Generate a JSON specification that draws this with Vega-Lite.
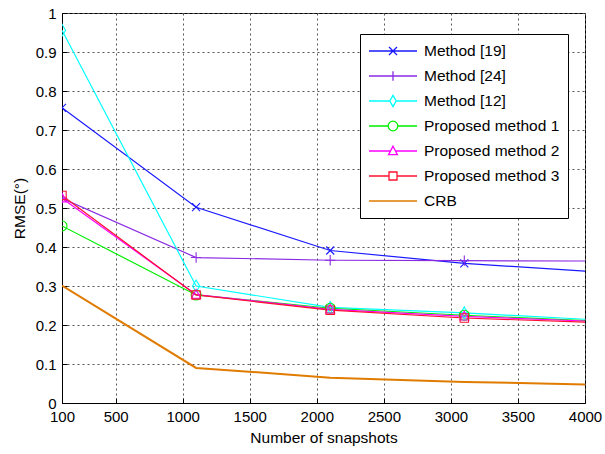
{
  "$schema": "https://vega.github.io/schema/vega-lite/v6.json",
  "width": 523,
  "height": 390,
  "autosize": {"type": "none"},
  "padding": {"left": 62, "top": 13, "right": 20, "bottom": 51},
  "background": "white",
  "config": {
    "view": {"stroke": "black", "strokeWidth": 1},
    "font": "Liberation Sans",
    "point": {"opacity": 1},
    "axis": {
      "grid": true,
      "labelFont": "Liberation Sans",
      "titleFont": "Liberation Sans",
      "labelFontSize": 15,
      "titleFontSize": 15.5,
      "titleFontWeight": "normal",
      "labelColor": "black",
      "titleColor": "black",
      "domainColor": "black",
      "tickColor": "black",
      "gridColor": "#555555",
      "gridDash": [2, 3],
      "gridOpacity": 1,
      "gridWidth": 1,
      "tickSize": -5,
      "labelPadding": 11
    }
  },
  "data": {
    "values": [
      {"x": 100, "y": 0.757, "s": "Method [19]"},
      {"x": 1100, "y": 0.502, "s": "Method [19]"},
      {"x": 2100, "y": 0.391, "s": "Method [19]"},
      {"x": 3100, "y": 0.358, "s": "Method [19]"},
      {"x": 4100, "y": 0.336, "s": "Method [19]"},
      {"x": 100, "y": 0.525, "s": "Method [24]"},
      {"x": 1100, "y": 0.373, "s": "Method [24]"},
      {"x": 2100, "y": 0.366, "s": "Method [24]"},
      {"x": 3100, "y": 0.365, "s": "Method [24]"},
      {"x": 4100, "y": 0.364, "s": "Method [24]"},
      {"x": 100, "y": 0.956, "s": "Method [12]"},
      {"x": 1100, "y": 0.300, "s": "Method [12]"},
      {"x": 2100, "y": 0.245, "s": "Method [12]"},
      {"x": 3100, "y": 0.231, "s": "Method [12]"},
      {"x": 4100, "y": 0.213, "s": "Method [12]"},
      {"x": 100, "y": 0.454, "s": "Proposed method 1"},
      {"x": 1100, "y": 0.277, "s": "Proposed method 1"},
      {"x": 2100, "y": 0.243, "s": "Proposed method 1"},
      {"x": 3100, "y": 0.225, "s": "Proposed method 1"},
      {"x": 4100, "y": 0.210, "s": "Proposed method 1"},
      {"x": 100, "y": 0.525, "s": "Proposed method 2"},
      {"x": 1100, "y": 0.278, "s": "Proposed method 2"},
      {"x": 2100, "y": 0.240, "s": "Proposed method 2"},
      {"x": 3100, "y": 0.222, "s": "Proposed method 2"},
      {"x": 4100, "y": 0.209, "s": "Proposed method 2"},
      {"x": 100, "y": 0.532, "s": "Proposed method 3"},
      {"x": 1100, "y": 0.277, "s": "Proposed method 3"},
      {"x": 2100, "y": 0.238, "s": "Proposed method 3"},
      {"x": 3100, "y": 0.218, "s": "Proposed method 3"},
      {"x": 4100, "y": 0.206, "s": "Proposed method 3"},
      {"x": 100, "y": 0.301, "s": "CRB"},
      {"x": 1100, "y": 0.090, "s": "CRB"},
      {"x": 2100, "y": 0.065, "s": "CRB"},
      {"x": 3100, "y": 0.054, "s": "CRB"},
      {"x": 4100, "y": 0.047, "s": "CRB"}
    ]
  },
  "encoding": {
    "x": {"field": "x", "type": "quantitative", "scale": {"domain": [100, 4000], "nice": false, "zero": false},
      "axis": {"values": [100, 500, 1000, 1500, 2000, 2500, 3000, 3500, 4000], "format": "d", "title": "Number of snapshots", "titlePadding": 6, "labelFlush": false, "grid": true}},
    "y": {"field": "y", "type": "quantitative", "scale": {"domain": [0, 1], "nice": false},
      "axis": {"values": [0, 0.1, 0.2, 0.3, 0.4, 0.5, 0.6, 0.7, 0.8, 0.9, 1], "format": ".1~f", "title": "RMSE(°)", "titlePadding": 8, "grid": true}},
    "color": {
      "field": "s", "type": "nominal",
      "scale": {
        "domain": ["Method [19]", "Method [24]", "Method [12]", "Proposed method 1", "Proposed method 2", "Proposed method 3", "CRB"],
        "range": ["#1a1aff", "#8a2be2", "#00ffff", "#00ee00", "#ff00ff", "#ff1030", "#e07b00"]
      },
      "legend": {
        "orient": "none",
        "legendX": 298,
        "legendY": 21,
        "title": null,
        "symbolSize": 256,
        "symbolOffset": 16,
        "labelOffset": 22,
        "rowPadding": 7,
        "padding": 8,
        "strokeColor": "black",
        "fillColor": "white",
        "labelFont": "Liberation Sans",
        "labelFontSize": 15.5,
        "labelColor": "black",
        "symbolStrokeWidth": 1.3,
        "symbolFillColor": "transparent",
        "symbolOpacity": 1
      }
    }
  },
  "layer": [
    {
      "mark": {"type": "line", "clip": true},
      "encoding": {
        "strokeWidth": {"condition": {"test": "datum.s === 'CRB'", "value": 2}, "value": 1.2}
      }
    },
    {
      "transform": [{"filter": "datum.s === 'Method [19]' && datum.x <= 4000"}],
      "mark": {"type": "point", "filled": false, "clip": true, "opacity": 1, "strokeWidth": 1.1, "size": 64, "shape": "M-1,-1L1,1M-1,1L1,-1"},
      "encoding": {}
    },
    {
      "transform": [{"filter": "datum.s === 'Method [24]' && datum.x <= 4000"}],
      "mark": {"type": "point", "filled": false, "clip": true, "opacity": 1, "strokeWidth": 1.1, "size": 64, "shape": "M-1.3,0H1.3M0,-1.3V1.3"},
      "encoding": {}
    },
    {
      "transform": [{"filter": "datum.s === 'Method [12]' && datum.x <= 4000"}],
      "mark": {"type": "point", "filled": false, "clip": true, "opacity": 1, "strokeWidth": 1.1, "size": 64, "shape": "M0,-1.5L0.9,0L0,1.5L-0.9,0Z"},
      "encoding": {}
    },
    {
      "transform": [{"filter": "datum.s === 'Proposed method 1' && datum.x <= 4000"}],
      "mark": {"type": "point", "filled": false, "clip": true, "opacity": 1, "strokeWidth": 1.1, "size": 100, "shape": "circle"},
      "encoding": {}
    },
    {
      "transform": [{"filter": "datum.s === 'Proposed method 2' && datum.x <= 4000"}],
      "mark": {"type": "point", "filled": false, "clip": true, "opacity": 1, "strokeWidth": 1.1, "size": 64, "shape": "M0,-1.3L1.15,0.9L-1.15,0.9Z"},
      "encoding": {}
    },
    {
      "transform": [{"filter": "datum.s === 'Proposed method 3' && datum.x <= 4000"}],
      "mark": {"type": "point", "filled": false, "clip": true, "opacity": 1, "strokeWidth": 1.1, "size": 64, "shape": "M-1.05,-1.05H1.05V1.05H-1.05Z"},
      "encoding": {}
    },
    {
      "transform": [{"filter": "false"}],
      "mark": {"type": "point", "filled": false, "opacity": 1, "strokeWidth": 1.3, "size": 256},
      "encoding": {
        "shape": {
          "field": "s", "type": "nominal",
          "scale": {
            "domain": ["Method [19]", "Method [24]", "Method [12]", "Proposed method 1", "Proposed method 2", "Proposed method 3", "CRB"],
            "range": [
              "M-3,0H3M-0.5,-0.5L0.5,0.5M-0.5,0.5L0.5,-0.5",
              "M-3,0H3M0,-0.6V0.6",
              "M-3,0H-0.4M0.4,0H3M0,-0.7L0.4,0L0,0.7L-0.4,0Z",
              "M-3,0H-0.6M0.6,0H3M-0.6,0A0.6,0.6 0 1,0 0.6,0A0.6,0.6 0 1,0 -0.6,0Z",
              "M-3,0H-0.35M0.35,0H3M0,-0.6L0.55,0.45L-0.55,0.45Z",
              "M-3,0H-0.5M0.5,0H3M-0.5,-0.5H0.5V0.5H-0.5Z",
              "M-3,0H3"
            ]
          }
        }
      }
    }
  ]
}
